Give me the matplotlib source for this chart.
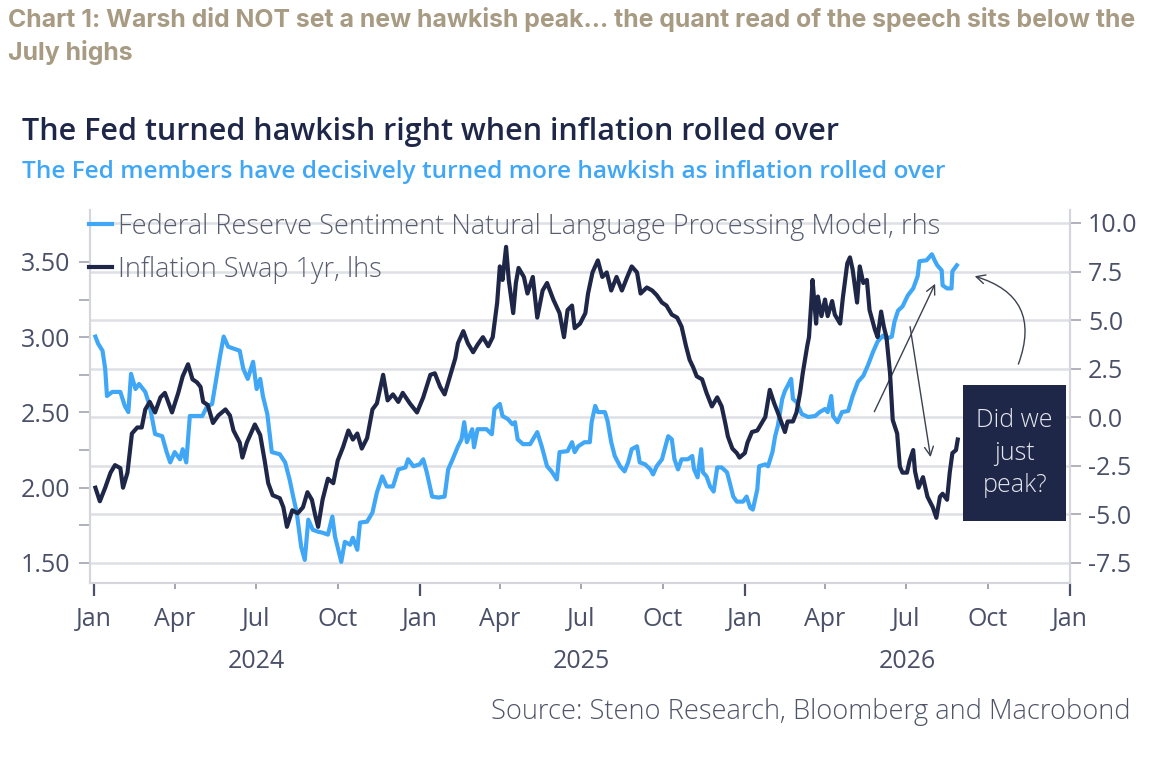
import pandas as pd
import matplotlib
matplotlib.use("Agg")
import matplotlib.pyplot as plt
import matplotlib.dates as mdates
from matplotlib.patches import Rectangle

plt.rcParams['font.family'] = ['Open Sans', 'DejaVu Sans']
plt.rcParams['axes.unicode_minus'] = False

NAVY = '#1f2749'
BLUE = '#3fa7f6'
TXT = '#4a5068'
GRID = '#dfe0e5'

# days since 1 Jan 2024 and values
swap_days = [2, 7, 13, 19, 24, 30, 33, 38, 43, 49, 54, 58, 63, 69, 75, 80, 88, 95, 100, 106,
             111, 116, 120, 123, 128, 134, 140, 148, 153, 157, 164, 167, 172, 181, 187, 192,
             196, 201, 209, 213, 217, 223, 229, 235, 240, 245, 249, 252, 257, 263, 269, 274,
             280, 286, 291, 296, 301, 307, 313, 318, 325, 330, 336, 342, 347, 355, 363, 370,
             378, 383, 389, 394, 400, 406, 409, 415, 420, 426, 431, 437, 443, 448, 453, 456,
             459, 463, 466, 471, 474, 477, 483, 487, 493, 498, 504, 509, 516, 523, 528, 532,
             537, 540, 546, 552, 555, 560, 566, 571, 576, 581, 587, 593, 599, 604, 610, 614,
             621, 627, 632, 638, 643, 649, 655, 660, 665, 669, 673, 677, 683, 688, 694, 700,
             705, 709, 712, 717, 722, 725, 731, 734, 739, 745, 750, 754, 759, 764, 768, 776,
             779, 785, 789, 793, 796, 801, 803, 806, 807, 811, 813, 817, 821, 824, 829, 832,
             838, 841, 846, 849, 852, 857, 860, 864, 868, 871, 877, 880, 884, 887, 890, 894,
             897, 902, 905, 908, 913, 916, 920, 922, 926, 931, 936, 942, 946, 950, 953, 958,
             961, 964, 968, 970]
swap_vals = [2.00, 1.91, 2.00, 2.10, 2.15, 2.13, 2.00, 2.10, 2.36, 2.40, 2.40, 2.52, 2.57, 2.50,
             2.60, 2.63, 2.50, 2.63, 2.74, 2.82, 2.72, 2.70, 2.67, 2.57, 2.55, 2.43, 2.48, 2.52,
             2.48, 2.38, 2.30, 2.20, 2.30, 2.42, 2.35, 2.18, 2.03, 1.95, 1.93, 1.87, 1.74, 1.85,
             1.83, 1.87, 1.97, 1.92, 1.81, 1.74, 1.92, 2.06, 2.03, 2.18, 2.27, 2.38, 2.32, 2.36,
             2.26, 2.33, 2.52, 2.56, 2.75, 2.58, 2.62, 2.57, 2.63, 2.56, 2.50, 2.60, 2.75, 2.76,
             2.67, 2.62, 2.74, 2.86, 2.96, 3.04, 2.96, 2.90, 2.95, 3.00, 2.94, 3.00, 3.23, 3.47,
             3.38, 3.60, 3.38, 3.16, 3.36, 3.46, 3.40, 3.29, 3.40, 3.13, 3.31, 3.36, 3.25, 3.16,
             3.00, 3.18, 3.21, 3.06, 3.09, 3.16, 3.29, 3.43, 3.51, 3.40, 3.43, 3.31, 3.40, 3.31,
             3.40, 3.47, 3.43, 3.29, 3.33, 3.31, 3.28, 3.23, 3.21, 3.15, 3.13, 3.07, 2.94, 2.85,
             2.80, 2.74, 2.72, 2.63, 2.54, 2.60, 2.54, 2.43, 2.34, 2.26, 2.23, 2.20, 2.23, 2.30,
             2.37, 2.38, 2.43, 2.47, 2.65, 2.56, 2.50, 2.37, 2.44, 2.44, 2.50, 2.63, 2.76, 2.94,
             3.00, 3.27, 3.38, 3.09, 3.27, 3.14, 3.25, 3.14, 3.24, 3.15, 3.09, 3.26, 3.49, 3.53,
             3.45, 3.23, 3.47, 3.36, 3.38, 3.18, 3.05, 3.00, 3.17, 3.07, 3.00, 2.76, 2.45, 2.36,
             2.14, 2.10, 2.10, 2.18, 2.25, 2.11, 2.00, 2.07, 1.94, 1.87, 1.80, 1.94, 1.96, 1.92,
             2.10, 2.23, 2.25, 2.32]

fed_days = [2, 5, 10, 13, 15, 21, 30, 35, 39, 42, 47, 51, 58, 63, 69, 77, 82, 86, 91, 97, 100,
            104, 108, 122, 127, 133, 139, 142, 146, 151, 164, 168, 173, 179, 183, 187, 190, 195,
            200, 209, 215, 220, 224, 228, 233, 237, 241, 246, 252, 257, 263, 268, 271, 278, 282,
            288, 291, 296, 299, 307, 313, 318, 324, 329, 336, 342, 350, 353, 359, 366, 370, 374,
            380, 387, 394, 398, 403, 409, 413, 416, 419, 425, 427, 431, 441, 447, 450, 456, 459,
            465, 470, 473, 476, 482, 490, 498, 503, 509, 514, 520, 523, 532, 537, 540, 544, 551,
            557, 559, 563, 566, 574, 577, 581, 585, 591, 596, 600, 604, 610, 613, 619, 625, 628,
            632, 638, 641, 645, 649, 652, 656, 660, 667, 672, 674, 678, 682, 684, 688, 692, 696,
            700, 705, 711, 714, 718, 722, 729, 733, 737, 740, 745, 747, 754, 757, 762, 765, 768,
            773, 776, 779, 783, 785, 789, 795, 802, 810, 815, 821, 824, 828, 830, 835, 840, 847,
            852, 858, 864, 869, 875, 880, 886, 890, 896, 899, 903, 908, 914, 920, 925, 927, 935,
            941, 944, 947, 952, 953, 958, 963, 964, 969]
fed_vals = [4.15, 3.79, 3.42, 2.49, 1.09, 1.30, 1.30, 0.58, 0.26, 2.23, 1.45, 1.71, 1.30, 0.58,
            -0.87, -0.98, -1.80, -2.33, -1.80, -2.17, -1.65, -2.33, 0.06, 0.06, 0.52, 0.68, 2.34,
            3.16, 4.15, 3.63, 3.42, 2.49, 1.97, 2.85, 1.45, 1.97, 1.09, 0.16, -1.80, -1.91, -2.33,
            -3.21, -4.09, -4.91, -6.68, -7.35, -5.28, -5.80, -5.90, -5.95, -6.05, -5.12, -6.16,
            -7.45, -6.42, -6.57, -6.21, -6.83, -5.43, -5.38, -4.91, -3.88, -3.05, -3.57, -3.57,
            -2.69, -2.59, -2.17, -2.53, -2.43, -2.17, -2.84, -4.09, -4.14, -4.09, -2.69, -2.17,
            -1.50, -1.14, -0.26, -1.29, -0.62, -1.55, -0.62, -0.62, -0.88, 0.42, 0.68, 0.06,
            -0.10, -0.36, -0.26, -1.14, -1.39, -1.39, -0.77, -1.50, -2.53, -2.79, -3.21, -1.80,
            -1.75, -1.29, -1.80, -1.50, -1.29, -1.29, -0.26, 0.58, 0.26, 0.26, -0.21, -1.29,
            -2.00, -2.53, -2.79, -2.33, -1.65, -1.50, -2.33, -2.43, -2.69, -2.95, -2.53, -2.17,
            -1.65, -0.98, -1.14, -2.17, -2.69, -2.17, -2.17, -2.00, -2.69, -3.10, -1.65, -2.84,
            -3.05, -3.57, -3.83, -2.59, -2.59, -2.84, -3.36, -4.09, -4.35, -4.35, -4.09, -4.66,
            -4.76, -3.72, -2.53, -2.43, -2.53, -1.80, -0.98, -0.46, 0.94, 1.35, 1.61, 1.97, 0.94,
            0.78, 0.16, 0.01, 0.06, 0.26, 0.42, 0.26, 1.09, 0.06, -0.26, 0.26, 0.32, 1.09, 1.82,
            2.13, 2.65, 3.37, 3.89, 4.20, 4.04, 4.15, 4.92, 5.49, 5.70, 6.27, 6.63, 7.26, 8.03,
            8.08, 8.39, 8.08, 7.82, 7.56, 6.79, 6.63, 6.63, 7.51, 7.82]

start = pd.Timestamp('2024-01-01')
swap_dates = start + pd.to_timedelta(swap_days, unit='D')
fed_dates = start + pd.to_timedelta(fed_days, unit='D')

years = ['2024', '2025', '2026']
lhs_ticks = [1.5, 2.0, 2.5, 3.0, 3.5]
rhs_ticks = [-7.5, -5.0, -2.5, 0.0, 2.5, 5.0, 7.5, 10.0]

fig = plt.figure(figsize=(11.56, 7.68), dpi=100)
ax = fig.add_axes([0.0779, 0.2409, 0.8477, 0.4857])
ax2 = ax.twinx()
ax.set_zorder(2)
ax2.set_zorder(1)
ax.patch.set_visible(False)

l2, = ax2.plot(fed_dates, fed_vals, color=BLUE, lw=3.0, solid_joinstyle='round',
               label='Federal Reserve Sentiment Natural Language Processing Model, rhs')
l1, = ax.plot(swap_dates, swap_vals, color=NAVY, lw=3.0, solid_joinstyle='round',
              label='Inflation Swap 1yr, lhs')

ax.set_xlim(pd.Timestamp('2023-12-28'), pd.Timestamp('2027-01-01'))
ax.set_ylim(1.367, 3.845)
ax2.set_ylim(-8.54, 10.67)

ax.set_yticks(lhs_ticks)
ax.set_yticks([1.75, 2.25, 2.75, 3.25], minor=True)
ax.yaxis.set_major_formatter(plt.FormatStrFormatter('%.2f'))
ax2.set_yticks(rhs_ticks)
ax2.yaxis.set_major_formatter(plt.FormatStrFormatter('%.1f'))
ax2.yaxis.grid(True, color=GRID, lw=1.8)
ax2.set_axisbelow(True)

ax.xaxis.set_major_locator(mdates.MonthLocator(bymonth=[1, 4, 7, 10]))
ax.xaxis.set_major_formatter(mdates.DateFormatter('%b'))
ax.xaxis.set_minor_locator(mdates.MonthLocator(bymonth=[1]))
ax.xaxis.remove_overlapping_locs = False

for a in (ax, ax2):
    a.spines['top'].set_visible(False)
    for side in ('left', 'right', 'bottom'):
        a.spines[side].set_color('#d4d6dc')
        a.spines[side].set_linewidth(1.5)

ax.tick_params(axis='y', which='both', length=8, width=1.3, color='#a9acb8',
               labelsize=18, labelcolor=TXT, pad=6)
ax2.tick_params(axis='y', length=8, width=1.3, color='#a9acb8',
                labelsize=18, labelcolor=TXT, pad=5)
ax.tick_params(axis='x', which='major', length=4, width=1.3, color='#9a9eab',
               labelsize=18, labelcolor=TXT, pad=13)
ax.tick_params(axis='x', which='minor', length=9, width=1.6, color='#4a5068')

for y in years:
    ax.text(pd.Timestamp(f'{y}-07-02'), -0.21, y, transform=ax.get_xaxis_transform(),
            ha='center', va='center', fontsize=18, color=TXT)

leg = ax.legend(handles=[l2, l1], loc='upper left', bbox_to_anchor=(-0.012, 1.022),
                frameon=False, fontsize=19.5, labelcolor='#585d6e', handlelength=0.85,
                handletextpad=0.2, labelspacing=0.55, borderaxespad=0)
for t in leg.get_texts():
    t.set_fontweight('light')

# annotation box and arrows
ax.add_patch(Rectangle((0.891, 0.166), 0.105, 0.365, transform=ax.transAxes,
                       facecolor=NAVY, edgecolor='none', zorder=5))
ax.text(0.9435, 0.348, 'Did we\njust\npeak?', transform=ax.transAxes, ha='center',
        va='center', fontsize=18, color='#e6e7ee', linespacing=1.4, zorder=6,
        fontweight='light')

arrow = dict(arrowstyle='->', color='#3c4150', lw=1.0, mutation_scale=16)
ax2.annotate('', xy=(start + pd.Timedelta(days=946), 7.0),
             xytext=(start + pd.Timedelta(days=875), 0.15), arrowprops=arrow)
ax2.annotate('', xy=(start + pd.Timedelta(days=940), -2.2),
             xytext=(start + pd.Timedelta(days=916), 4.8), arrowprops=arrow)
ax2.annotate('', xy=(start + pd.Timedelta(days=986), 7.3),
             xytext=(start + pd.Timedelta(days=1037), 2.6),
             arrowprops=dict(arrow, connectionstyle='arc3,rad=0.55'))

fig.text(0.007, 0.974, 'Chart 1: Warsh did NOT set a new hawkish peak\u2026 the quant read of the speech sits below the',
         fontsize=17.9, fontweight='bold', color='#a89b84', family=['Inter', 'DejaVu Sans'],
         va='center')
fig.text(0.007, 0.932, 'July highs', fontsize=17.9, fontweight='bold', color='#a89b84',
         family=['Inter', 'DejaVu Sans'], va='center')
fig.text(0.019, 0.828, 'The Fed turned hawkish right when inflation rolled over', fontsize=22,
         fontweight='semibold', color=NAVY, va='center')
fig.text(0.019, 0.776, 'The Fed members have decisively turned more hawkish as inflation rolled over',
         fontsize=17.6, fontweight='semibold', color=BLUE, va='center')
fig.text(0.978, 0.073, 'Source: Steno Research, Bloomberg and Macrobond', fontsize=19.6,
         color='#4f5468', ha='right', va='center', fontweight='light')

fig.savefig('out.png', dpi=100, facecolor='white')
